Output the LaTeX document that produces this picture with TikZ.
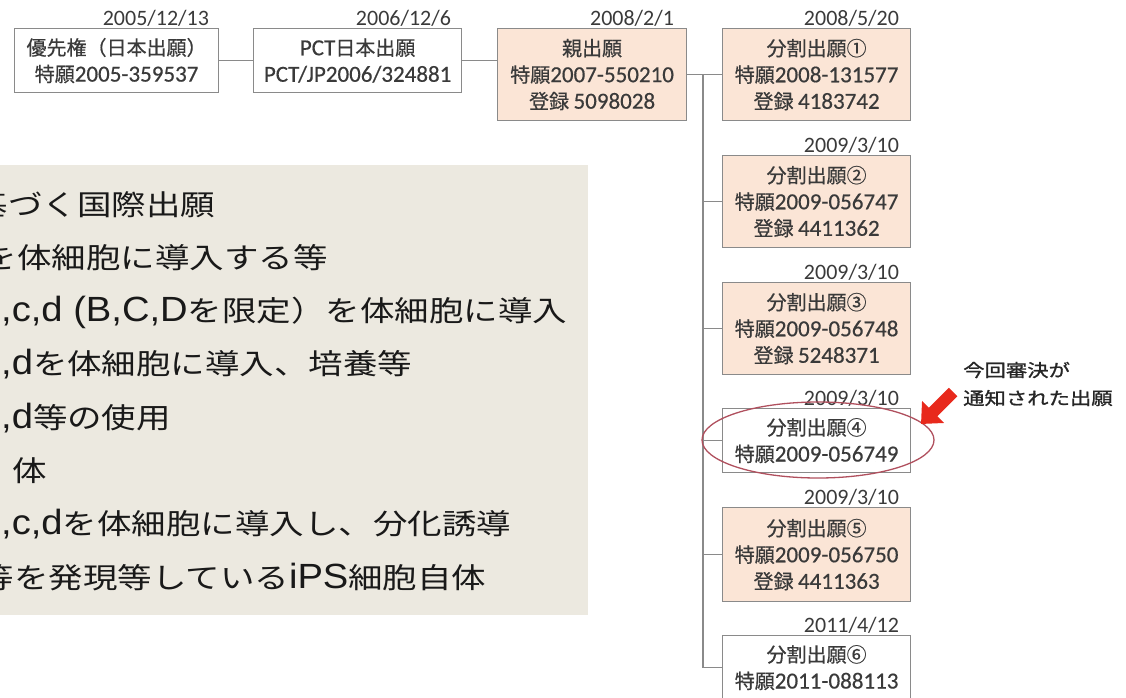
\documentclass[tikz,border=0pt]{standalone}
\usepackage{fontspec}
\usetikzlibrary{arrows.meta,shapes.geometric}
\newfontfamily\jp[FakeBold=0.5]{Noto Sans CJK JP}
\newfontfamily\jpwide[FakeStretch=1.21]{Noto Sans CJK JP}
\newfontfamily\jpann[FakeStretch=1.22,FakeBold=1.2]{Noto Sans CJK JP}
\newfontfamily\latwide[FakeStretch=1.09]{Liberation Sans}
\newfontfamily\calfont{Carlito}
\newfontfamily\calbold[FakeBold=0.5]{Carlito}
\newcommand\Lb[1]{{\calbold\fontsize{23}{26.5}\selectfont #1}}
\newcommand\Lp[1]{{\latwide\fontsize{35}{52}\selectfont #1}}
\definecolor{peach}{HTML}{FBE5D6}
\definecolor{panelfill}{HTML}{ECE9E0}
\definecolor{boxtext}{HTML}{3A3A3A}
\definecolor{connline}{HTML}{8A8A8A}
\definecolor{hlcol}{HTML}{B0505E}
\definecolor{arrred}{HTML}{E8291C}
\begin{document}
\begin{tikzpicture}[x=1pt,y=-1pt,
  box/.style={draw=connline, line width=1.2pt, inner sep=0pt, align=center,
    font=\jp\fontsize{20}{26.5}\selectfont, text=boxtext, anchor=north west,
    minimum height=64pt},
  wbox/.style={box, fill=white},
  pbox/.style={box, fill=peach},
  datelbl/.style={font=\calfont\fontsize{22}{22}\selectfont, text=boxtext, anchor=base east, inner sep=0pt},
  conn/.style={draw=connline, line width=1.6pt},
  pantext/.style={font=\jpwide\fontsize{28.5}{40}\selectfont, text=black!90, anchor=base west, inner sep=0pt},
  redarrow/.style={draw=arrred, line width=12pt, -{Triangle[width=30pt,length=17pt]}},
  hlstyle/.style={draw=hlcol, line width=1.3pt, ellipse, inner sep=0pt}
]
\useasboundingbox (0,0) rectangle (1126,697);
\clip (0,0) rectangle (1126,697);

% explanation panel
\fill[panelfill] (-10,165) rectangle (588,615);
\node[pantext] (p1) at (8,215) {\llap{基}づく国際出願};
\node[pantext] (p2) at (17,268.3) {\llap{を}体細胞に導入する等};
\node[pantext] (p3) at (1,321.6) {\Lp{,c,d (B,C,D}を限定）を体細胞に導入};
\node[pantext] (p4) at (1,374.9) {\Lp{,d}を体細胞に導入、培養等};
\node[pantext] (p5) at (1,428.2) {\Lp{,d}等の使用};
\node[pantext] (p6) at (12,481.5) {体};
\node[pantext] (p7) at (1,534.8) {\Lp{,c,d}を体細胞に導入し、分化誘導};
\node[pantext] (p8) at (14,588.1) {\llap{等}を発現等している\Lp{iPS}細胞自体};

% top row
\node[wbox, minimum width=204pt] (b1) at (14,28) {優先権（日本出願）\\特願\Lb{2005-359537}};
\node[wbox, minimum width=208pt] (b2) at (253,28) {\Lb{PCT}日本出願\\\Lb{PCT/JP2006/324881}};
\node[pbox, minimum width=189pt, minimum height=92pt] (b3) at (497,28) {親出願\\特願\Lb{2007-550210}\\登録 \Lb{5098028}};

% divisional applications
\node[pbox, minimum width=188pt, minimum height=92pt] (s1) at (722,28) {分割出願①\\特願\Lb{2008-131577}\\登録 \Lb{4183742}};
\node[pbox, minimum width=188pt, minimum height=92pt] (s2) at (722,155) {分割出願②\\特願\Lb{2009-056747}\\登録 \Lb{4411362}};
\node[pbox, minimum width=188pt, minimum height=92pt] (s3) at (722,282) {分割出願③\\特願\Lb{2009-056748}\\登録 \Lb{5248371}};
\node[wbox, minimum width=188pt] (s4) at (722,408) {分割出願④\\特願\Lb{2009-056749}};
\node[pbox, minimum width=188pt, minimum height=94pt] (s5) at (722,507) {分割出願⑤\\特願\Lb{2009-056750}\\登録 \Lb{4411363}};
\node[wbox, minimum width=188pt] (s6) at (722,635) {分割出願⑥\\特願\Lb{2011-088113}};

% dates
\node[datelbl] (d1) at ([shift={(-10pt,3pt)}]b1.north east) {2005/12/13};
\node[datelbl] (d2) at ([shift={(-11pt,3pt)}]b2.north east) {2006/12/6};
\node[datelbl] (d3) at ([shift={(-13pt,3pt)}]b3.north east) {2008/2/1};
\node[datelbl] (e1) at ([shift={(-12pt,3pt)}]s1.north east) {2008/5/20};
\node[datelbl] (e2) at ([shift={(-12pt,3pt)}]s2.north east) {2009/3/10};
\node[datelbl] (e3) at ([shift={(-12pt,3pt)}]s3.north east) {2009/3/10};
\node[datelbl] (e4) at ([shift={(-12pt,3pt)}]s4.north east) {2009/3/10};
\node[datelbl] (e5) at ([shift={(-12pt,3pt)}]s5.north east) {2009/3/10};
\node[datelbl] (e6) at ([shift={(-12pt,3pt)}]s6.north east) {2011/4/12};

% connectors
\draw[conn] (b1.east) -- (b2.west);
\draw[conn] (b2.east) -- (b2.east -| b3.west);
\draw[conn] (b3.east) -- (s1.west);
\coordinate (trunk) at (703,0);
\draw[conn] (trunk |- b3.east) |- (s6.west);
\draw[conn] (trunk |- s2.west) -- (s2.west);
\draw[conn] (trunk |- s3.west) -- (s3.west);
\draw[conn] (trunk |- s4.west) -- (s4.west);
\draw[conn] (trunk |- s5.west) -- (s5.west);

% highlight
\node[hlstyle, minimum width=232pt, minimum height=76pt] (hl) at (818,440) {};
\coordinate (atail) at (953,392);
\coordinate (atip) at (921,424);
\draw[redarrow] (atail) -- (atip);
\node[font=\jpann\fontsize{17.5}{28}\selectfont, text=black!85, align=left, anchor=west, inner sep=0pt] (note) at (963,384) {今回審決が\\通知された出願};
\end{tikzpicture}
\end{document}
